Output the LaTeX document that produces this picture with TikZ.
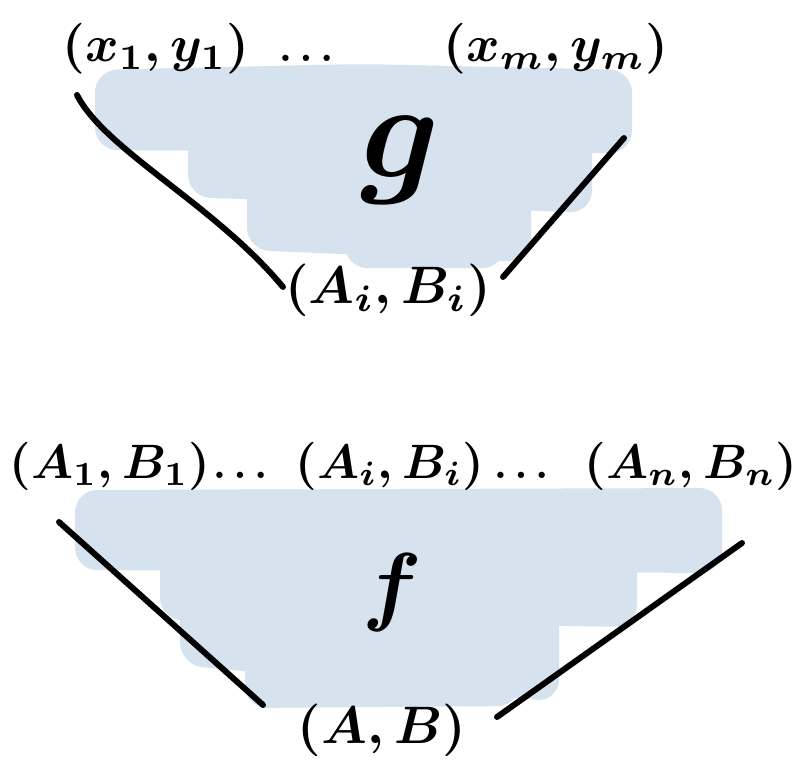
\documentclass[tikz,border=0pt]{standalone}
\usepackage{amsmath}
\definecolor{blob}{RGB}{214,226,237}
\begin{document}
\begin{tikzpicture}[x=0.02cm,y=-0.02cm,
  blobfill/.style={fill=blob, rounded corners=0.45cm},
  stroke/.style={line width=3.4pt, line cap=round},
  lbl/.style={font=\boldmath, scale=2.9, inner sep=0pt, anchor=base},
  rowlbl/.style={font=\boldmath, scale=2.75, inner sep=0pt, anchor=base},
  biglbl/.style={font=\boldmath, scale=3.0, inner sep=0pt, anchor=center},
  dotslbl/.style={font=\boldmath, scale=2.3, inner sep=0pt, anchor=base},
  big/.style={font=\boldmath, scale=7.8, inner sep=0pt},
  fbig/.style={font=\boldmath, scale=5.0, inner sep=0pt}]
\useasboundingbox (0,0) rectangle (811,767);
% top blob
\fill[blobfill] (95,70) -- (360,64) -- (632,70) -- (632,153) -- (95,150) -- cycle;
\fill[blobfill] (188,100) -- (592,100) -- (592,213) -- (188,197) -- cycle;
\fill[blobfill] (247,150) -- (531,150) -- (531,262) -- (247,250) -- cycle;
\fill[blobfill] (345,200) -- (505,200) -- (505,268) -- (345,268) -- cycle;
% bottom blob
\fill[blobfill] (75,490) -- (722,488) -- (722,573) -- (75,570) -- cycle;
\fill[blobfill] (160,520) -- (637,520) -- (637,627) -- (160,620) -- cycle;
\fill[blobfill] (180,580) -- (559,580) -- (559,702) -- (180,665) -- cycle;
\fill[blobfill] (245,620) -- (520,620) -- (520,706) -- (245,708) -- cycle;
% coordinates
\coordinate (tl1) at (77,95);
\coordinate (tl2) at (283,287);
\coordinate (tr1) at (624,138);
\coordinate (tr2) at (503,277);
\coordinate (bl1) at (59,522);
\coordinate (bl2) at (263,705);
\coordinate (br1) at (742,543);
\coordinate (br2) at (497,717);
\draw[stroke] (tl1) .. controls (105,150) and (215,205) .. (tl2);
\draw[stroke] (tr1) -- (tr2);
\draw[stroke] (bl1) -- (bl2);
\draw[stroke] (br1) -- (br2);
% texts
\node[lbl] (x1) at (156,62) {$(x_1, y_1)$};
\node[dotslbl] (tdots) at (310,62) {$\dots$};
\node[lbl] (xm) at (556,62) {$(x_m, y_m)$};
\node[big] (g) at (400,160) {$g$};
\node[biglbl] (aibi) at (388,290) {$(A_i, B_i)$};
\node[rowlbl] (a1) at (110,478) {$(A_1, B_1)$};
\node[dotslbl] (bdots1) at (244,478) {$\dots$};
\node[rowlbl] (ai) at (390,478) {$(A_i, B_i)$};
\node[dotslbl] (bdots2) at (525,478) {$\dots$};
\node[rowlbl] (an) at (691,478) {$(A_n, B_n)$};
\node[fbig] (f) at (392,593) {$f$};
\node[biglbl] (ab) at (382,730) {$(A, B)$};
\end{tikzpicture}
\end{document}
